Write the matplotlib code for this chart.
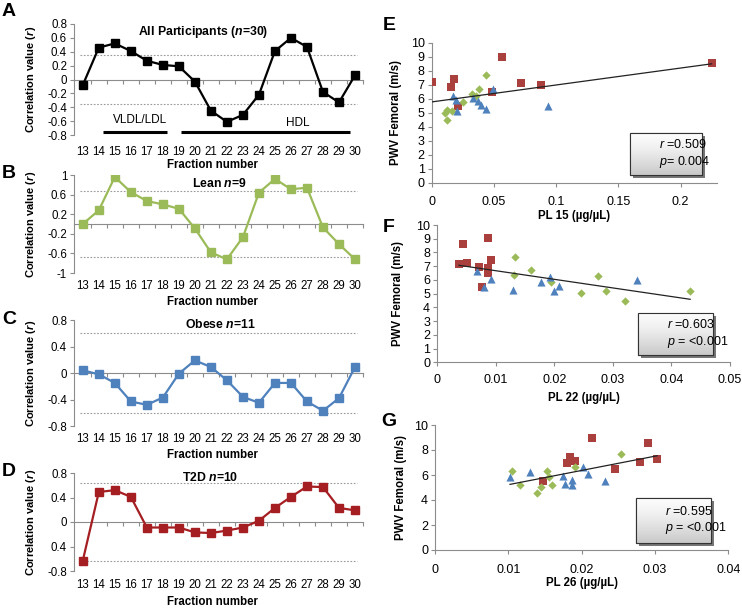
import matplotlib.pyplot as plt
import matplotlib.patheffects as pe
from matplotlib.patches import Rectangle
import numpy as np

plt.rcParams['font.family'] = ['Liberation Sans', 'DejaVu Sans']
plt.rcParams['mathtext.fontset'] = 'custom'
plt.rcParams['mathtext.rm'] = 'Liberation Sans'
plt.rcParams['mathtext.it'] = 'Liberation Sans:italic'
plt.rcParams['mathtext.bf'] = 'Liberation Sans:bold'
plt.rcParams['mathtext.bfit'] = 'Liberation Sans:bold:italic'
plt.rcParams['axes.unicode_minus'] = False

# ---- correlation profiles (panels A-D)
fractions = list(range(13, 31))
r_all = [-0.08, 0.46, 0.52, 0.41, 0.27, 0.21, 0.19, -0.03, -0.45, -0.61,
         -0.51, -0.22, 0.41, 0.60, 0.47, -0.18, -0.33, 0.06]
r_lean = [0.0, 0.28, 0.96, 0.65, 0.47, 0.40, 0.31, -0.09, -0.58, -0.72,
          -0.27, 0.64, 0.92, 0.71, 0.74, -0.07, -0.41, -0.72]
r_obese = [0.04, -0.02, -0.15, -0.43, -0.48, -0.37, -0.01, 0.19, 0.09, -0.11,
           -0.36, -0.45, -0.15, -0.15, -0.43, -0.57, -0.38, 0.09]
r_t2d = [-0.63, 0.49, 0.52, 0.41, -0.09, -0.09, -0.09, -0.17, -0.18, -0.14,
         -0.09, 0.02, 0.23, 0.41, 0.58, 0.57, 0.23, 0.19]
sig_all, sig_lean, sig_obese, sig_t2d = 0.36, 0.67, 0.60, 0.64
vldl_band = (14.25, 18.23)
hdl_band = (19.16, 29.7)
band_y = -0.76

# ---- scatter data (panels E-G): T2D squares, Lean diamonds, Obese triangles
e_t2d_x = [0.0, 0.0155, 0.0182, 0.0209, 0.0562, 0.0482, 0.0715, 0.0876, 0.2249]
e_t2d_y = [7.21, 6.86, 7.39, 5.48, 8.96, 6.50, 7.10, 6.98, 8.53]
e_lean_x = [0.0107, 0.0126, 0.0161, 0.0126, 0.0254, 0.0321, 0.0355, 0.0383, 0.0436]
e_lean_y = [5.00, 5.19, 5.14, 4.48, 5.79, 6.34, 6.20, 6.67, 7.69]
e_obese_x = [0.0169, 0.0195, 0.0201, 0.0329, 0.0375, 0.0394, 0.0436, 0.0495, 0.0937]
e_obese_y = [6.19, 5.91, 5.14, 6.03, 5.86, 5.55, 5.24, 6.67, 5.48]
e_fit = (12.1, 5.77)

f_t2d_x = [0.00375, 0.0051, 0.0044, 0.0071, 0.00865, 0.0092, 0.00865, 0.00865, 0.0076]
f_t2d_y = [7.14, 7.21, 8.59, 6.96, 9.03, 7.45, 6.89, 6.48, 5.46]
f_lean_x = [0.0133, 0.0132, 0.0160, 0.0194, 0.0245, 0.0274, 0.0289, 0.0321, 0.0432]
f_lean_y = [7.69, 6.36, 6.72, 5.83, 5.02, 6.29, 5.22, 4.49, 5.22]
f_obese_x = [0.0068, 0.0081, 0.0093, 0.0129, 0.0178, 0.0193, 0.0200, 0.0208, 0.0342]
f_obese_y = [6.67, 5.48, 6.07, 5.24, 5.87, 6.24, 5.22, 5.58, 6.00]
f_fit = (-62.75, 7.30)

g_t2d_x = [0.01477, 0.01795, 0.0184, 0.0191, 0.02136, 0.0245, 0.0280, 0.0290, 0.0303]
g_t2d_y = [5.52, 6.93, 7.41, 7.12, 8.99, 6.48, 7.01, 8.53, 7.25]
g_lean_x = [0.01055, 0.0116, 0.01386, 0.01445, 0.01523, 0.0156, 0.0159, 0.0191, 0.0253]
g_lean_y = [6.32, 5.20, 4.53, 5.07, 6.32, 5.87, 5.20, 6.67, 7.65]
g_obese_x = [0.01023, 0.01295, 0.0174, 0.0177, 0.0187, 0.0187, 0.0202, 0.0208, 0.0232]
g_obese_y = [5.86, 6.27, 5.95, 5.25, 5.60, 5.20, 6.67, 6.05, 5.52]
g_fit = (114.1, 4.083)

RED, GREEN, BLUE = '#A9403D', '#9BBB59', '#4F81BD'
AXGRAY = '#8C8C8C'

W, H = 742, 608
fig = plt.figure(figsize=(W / 100, H / 100), dpi=100)


def px_rect(left, top, right, bottom):
    return [left / W, 1 - bottom / H, (right - left) / W, (bottom - top) / H]


def letter(ch, x, y):
    fig.text(x / W, 1 - y / H, ch, fontsize=14, fontweight='bold', ha='center', va='center')


def corr_panel(rect, r, color, ylim, yticks, yticklabels, sig, title, title_xy,
               tickpad, xlab_y):
    ax = fig.add_axes(rect)
    ax.plot(fractions, r, color=color, lw=1.6, marker='s', ms=5.5, zorder=3)
    ax.axhline(sig, xmin=0.02, xmax=0.98, color='#999999', lw=0.8, ls=(0, (1.5, 1.5)))
    ax.axhline(-sig, xmin=0.02, xmax=0.98, color='#999999', lw=0.8, ls=(0, (1.5, 1.5)))
    ax.set_xlim(12.45, 30.45)
    ax.set_ylim(*ylim)
    for s in ['top', 'right']:
        ax.spines[s].set_visible(False)
    ax.spines['left'].set_color(AXGRAY)
    ax.spines['bottom'].set_color(AXGRAY)
    ax.spines['bottom'].set_position(('data', 0))
    ax.set_xticks(np.array(fractions) + 0.5)
    ax.set_xticklabels([])
    ax.tick_params(axis='x', length=3, color=AXGRAY, width=0.8)
    ax.set_yticks(yticks)
    ax.set_yticklabels(yticklabels)
    ax.tick_params(axis='y', length=3, color=AXGRAY, width=0.8, labelsize=8.3, pad=2)
    sec = ax.secondary_xaxis(0)
    sec.set_xticks(fractions)
    sec.tick_params(length=0, labelsize=8.3, pad=tickpad)
    sec.spines['bottom'].set_visible(False)
    ax.set_xlabel('Fraction number', fontsize=8.3, fontweight='bold')
    ax.xaxis.set_label_coords(0.48, xlab_y)
    ax.set_ylabel('Correlation value ($\\mathbfit{r}$)', fontsize=8, fontweight='bold')
    ax.yaxis.set_label_coords(-0.125, 0.5)
    ax.text(title_xy[0], title_xy[1], title, transform=ax.transAxes, ha='center',
            va='center', fontsize=8.8, fontweight='bold')
    return ax


axA = corr_panel(px_rect(74, 24, 363, 135), r_all, 'black', (-0.8, 0.8),
                 [-0.8, -0.6, -0.4, -0.2, 0, 0.2, 0.4, 0.6, 0.8],
                 ['-0.8', '-0.6', '-0.4', '-0.2', '0', '0.2', '0.4', '0.6', '0.8'],
                 sig_all, 'All Participants ($\\mathbfit{n}$=30)', (0.446, 0.925), 8.0, -0.215)
axA.hlines(band_y, *vldl_band, color='black', lw=2.2)
axA.hlines(band_y, *hdl_band, color='black', lw=2.2)
axA.text(0.228, 0.135, 'VLDL/LDL', transform=axA.transAxes, ha='center', va='center', fontsize=8.5)
axA.text(0.775, 0.108, 'HDL', transform=axA.transAxes, ha='center', va='center', fontsize=8.5)

corr_panel(px_rect(74, 175, 363, 273), r_lean, GREEN, (-1, 1),
           [-1, -0.6, -0.2, 0.2, 0.6, 1], ['-1', '-0.6', '-0.2', '0.2', '0.6', '1'],
           sig_lean, 'Lean $\\mathbfit{n}$=9', (0.505, 0.918), 5, -0.235)
corr_panel(px_rect(74, 320, 363, 426), r_obese, BLUE, (-0.8, 0.8),
           [-0.8, -0.4, 0, 0.4, 0.8], ['-0.8', '-0.4', '0', '0.4', '0.8'],
           sig_obese, 'Obese $\\mathbfit{n}$=11', (0.505, 0.953), 5, -0.217)
corr_panel(px_rect(74, 473, 363, 571), r_t2d, '#A51E22', (-0.8, 0.8),
           [-0.8, -0.4, 0, 0.4, 0.8], ['-0.8', '0.4', '0', '0.4', '0.8'],
           sig_t2d, 'T2D $\\mathbfit{n}$=10', (0.47, 0.959), 5.5, -0.255)


def scatter_panel(rect, xs, ys, fit, xlim, xticks, yticks, xlabel, stats, box, tickpad,
                  xlab_y, ylab_x):
    ax = fig.add_axes(rect)
    (tx, ty), (lx, ly), (ox, oy) = list(zip(xs, ys))
    ax.scatter(tx, ty, marker='s', s=34, color=RED, lw=0, zorder=3)
    ax.scatter(lx, ly, marker='D', s=18, color=GREEN, lw=0, zorder=3)
    ax.scatter(ox, oy, marker='^', s=34, color=BLUE, lw=0, zorder=3)
    allx = np.concatenate([tx, lx, ox])
    fx = np.array([allx.min(), allx.max()])
    ax.plot(fx, fit[0] * fx + fit[1], color='#222222', lw=0.9, zorder=4)
    for s in ['top', 'right']:
        ax.spines[s].set_visible(False)
    ax.spines['left'].set_color(AXGRAY)
    ax.spines['bottom'].set_color(AXGRAY)
    ax.set_xticks(xticks)
    ax.set_xticklabels(['%g' % v for v in xticks])
    ax.set_yticks(yticks)
    ax.tick_params(length=3, color=AXGRAY, width=0.8, labelsize=9)
    ax.tick_params(axis='x', pad=tickpad)
    ax.tick_params(axis='y', pad=2)
    ax.set_xlabel(xlabel, fontsize=8.3, fontweight='bold')
    ax.xaxis.set_label_coords(0.5, xlab_y)
    ax.set_ylabel('PWV Femoral (m/s)', fontsize=8.3, fontweight='bold')
    ax.yaxis.set_label_coords(ylab_x, 0.5)
    # stats box: light vertical gradient with a drop shadow
    x0, y0, x1, y1 = box
    base = Rectangle((x0, y0), x1 - x0, y1 - y0, transform=ax.transAxes, facecolor='#d0d0d0',
                     edgecolor='#333333', lw=0.8, zorder=5)
    base.set_path_effects([pe.SimplePatchShadow(offset=(2.5, -2.5), shadow_rgbFace='#555555',
                                                alpha=0.8), pe.Normal()])
    ax.add_patch(base)
    grad = np.linspace(0, 1, 60).reshape(-1, 1)
    ax.imshow(grad, extent=(x0, x1, y0, y1), transform=ax.transAxes, cmap='Greys',
              vmin=-0.05, vmax=3.2, aspect='auto', zorder=6, interpolation='bilinear')
    ax.add_patch(Rectangle((x0, y0), x1 - x0, y1 - y0, transform=ax.transAxes,
                           facecolor='none', edgecolor='#333333', lw=0.8, zorder=7))
    ax.text(x0 + 0.1, (y0 + y1) / 2, stats, transform=ax.transAxes, ha='left', va='center',
            fontsize=9, linespacing=1.2, zorder=8)
    ax.set_xlim(*xlim)
    ax.set_ylim(0, 10)
    return ax


scatter_panel(px_rect(431.7, 42.7, 717, 182.7),
              [e_t2d_x, e_lean_x, e_obese_x], [e_t2d_y, e_lean_y, e_obese_y], e_fit,
              (0, 0.2292), [0, 0.05, 0.1, 0.15, 0.2], range(0, 11),
              'PL 15 (\u00b5g/\u00b5L)', '$r$ =0.509\n$p$= 0.004',
              (0.695, 0.055, 0.947, 0.355), 6.5, -0.195, -0.104)
scatter_panel(px_rect(437, 225, 730, 362.3),
              [f_t2d_x, f_lean_x, f_obese_x], [f_t2d_y, f_lean_y, f_obese_y], f_fit,
              (0, 0.05), [0, 0.01, 0.02, 0.03, 0.04, 0.05], range(0, 11),
              'PL 22 (\u00b5g/\u00b5L)', '$r$ =0.603\n$p$ = <0.001',
              (0.686, 0.053, 0.942, 0.359), 5.5, -0.216, -0.113)
scatter_panel(px_rect(435, 425, 728.3, 550),
              [g_t2d_x, g_lean_x, g_obese_x], [g_t2d_y, g_lean_y, g_obese_y], g_fit,
              (0, 0.04), [0, 0.01, 0.02, 0.03, 0.04], range(0, 11, 2),
              'PL 26 (\u00b5g/\u00b5L)', '$r$ =0.595\n$p$ = <0.001',
              (0.685, 0.056, 0.941, 0.416), 7, -0.216, -0.095)

letter('A', 9, 11)
letter('B', 9, 173)
letter('C', 9, 319)
letter('D', 9, 472)
letter('E', 389, 26)
letter('F', 389, 227)
letter('G', 389, 421)

fig.savefig('out.png', dpi=100)
